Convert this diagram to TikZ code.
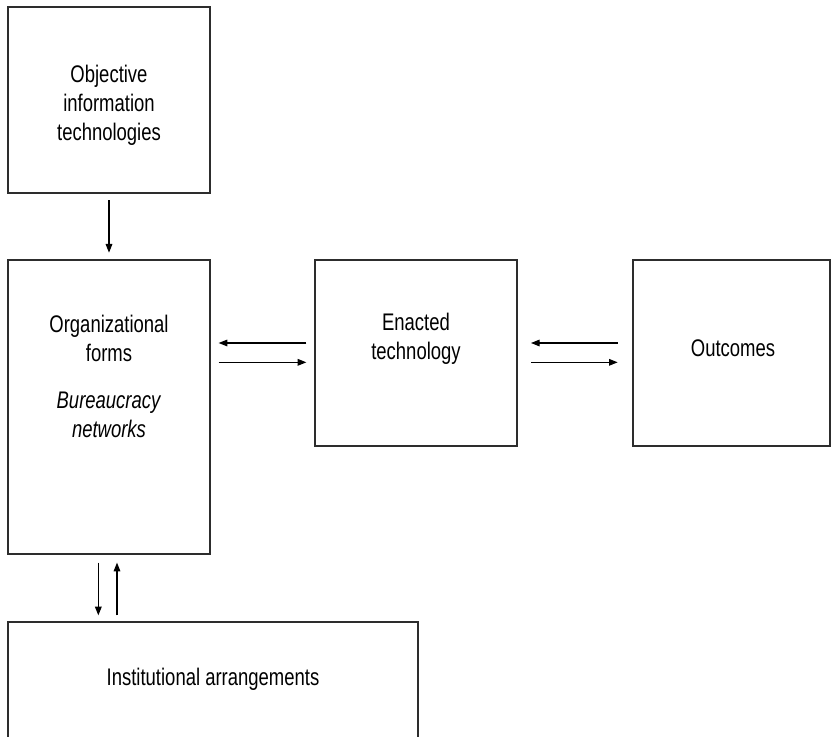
\documentclass[tikz,border=0pt]{standalone}
\usepackage{fontspec}
\setmainfont{Liberation Sans}[FakeStretch=0.77]
\usetikzlibrary{positioning, arrows.meta, calc}
\definecolor{BoxGray}{RGB}{45,45,45}

\begin{document}
\begin{tikzpicture}[x=0.75pt, y=-0.75pt,
    box/.style={draw=BoxGray, line width=1pt, minimum width=151.5pt, minimum height=139.5pt, inner sep=0pt},
    lbl/.style={align=center, anchor=north, inner sep=0pt, font=\fontsize{18}{21.75}\selectfont},
    arr/.style={-{Triangle[length=6.5pt,width=5pt]}, line width=0.8pt}]
  \useasboundingbox (0,0) rectangle (831,737);
  % boxes
  \node[box] (objective) at (109,100) {};
  \node[box, minimum height=220.5pt] (orgforms) at (109,407) {};
  \node[box] (enacted) at (416,353) {};
  \node[box, minimum width=147.75pt] (outcomes) at (731.5,353) {};
  \node[box, minimum width=307.5pt, minimum height=120pt] (institutional) at (213,702) {};
  % texts
  \node[lbl] (objectivetxt) at (109,65) {Objective\\information\\technologies};
  \node[lbl] (orgtxt) at (109,315) {Organizational\\forms\\[13.5pt]\textit{Bureaucracy}\\\textit{networks}};
  \node[lbl] (enactedtxt) at (416,313) {Enacted\\technology};
  \node[lbl] (outcomestxt) at (733,339) {Outcomes};
  \node[lbl] (institutionaltxt) at (213,668) {Institutional arrangements};
  % arrows
  \draw[arr, shorten <=5pt, shorten >=5pt] (objective) -- (orgforms);
  \draw[arr, shorten <=6pt, shorten >=6pt] ([yshift=7.5pt]enacted.west) -- ([yshift=7.5pt]enacted.west -| orgforms.east);
  \draw[arr, shorten <=6pt, shorten >=6pt] ([yshift=-7pt]enacted.west -| orgforms.east) -- ([yshift=-7pt]enacted.west);
  \draw[arr, shorten <=11pt, shorten >=10pt] ([yshift=7.5pt]outcomes.west) -- ([yshift=7.5pt]outcomes.west -| enacted.east);
  \draw[arr, shorten <=10pt, shorten >=11pt] ([yshift=-7pt]outcomes.west -| enacted.east) -- ([yshift=-7pt]outcomes.west);
  \draw[arr, shorten <=6pt, shorten >=4.5pt] ([xshift=-8pt]orgforms.south) -- ([xshift=-8pt]orgforms.south |- institutional.north);
  \draw[arr, shorten <=4.5pt, shorten >=6pt] ([xshift=6pt]orgforms.south |- institutional.north) -- ([xshift=6pt]orgforms.south);
\end{tikzpicture}
\end{document}
